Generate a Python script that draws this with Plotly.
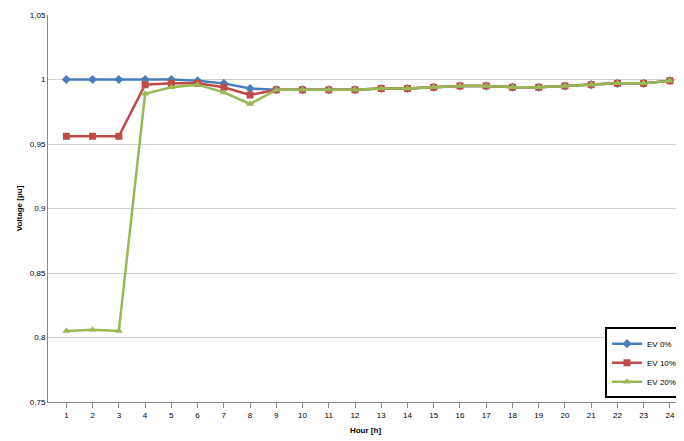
import plotly.graph_objects as go

hours = [str(h) for h in range(1, 25)]
tail = [0.992, 0.992, 0.992, 0.993, 0.993, 0.994, 0.995, 0.995, 0.994, 0.994, 0.995, 0.996, 0.997, 0.997, 0.999]
ev0 = [1.0, 1.0, 1.0, 1.0, 1.0, 0.999, 0.997, 0.993, 0.992] + tail
ev10 = [0.956, 0.956, 0.956, 0.996, 0.997, 0.997, 0.994, 0.988, 0.992] + tail
ev20 = [0.805, 0.806, 0.805, 0.989, 0.994, 0.996, 0.990, 0.981, 0.992] + tail
yticks = [0.75, 0.8, 0.85, 0.9, 0.95, 1.0, 1.05]
yticktext = ["0,75", "0,8", "0,85", "0,9", "0,95", "1", "1,05"]

fig = go.Figure()
for name, vals, col, sym in [("EV 0%", ev0, "#4a7ebb", "diamond"),
                             ("EV 10%", ev10, "#be4b48", "square"),
                             ("EV 20%", ev20, "#98b954", "triangle-up")]:
    fig.add_trace(go.Scatter(x=hours, y=vals, name=name, mode="lines+markers",
                             line={"color": col, "width": 2.5},
                             marker={"symbol": sym, "size": 7, "color": col}))

fig.update_layout(width=684, height=441, plot_bgcolor="#fff", paper_bgcolor="#fff",
                  font={"family": "Liberation Sans", "size": 8, "color": "#000"},
                  margin={"l": 40, "r": 9, "t": 7, "b": 47, "autoexpand": False},
                  legend={"x": 1.0, "y": 0.01, "xanchor": "right", "yanchor": "bottom",
                          "bordercolor": "#000", "borderwidth": 2, "font": {"size": 8},
                          "itemwidth": 30, "tracegroupgap": 0},
                  )
fig.update_xaxes(type="category", range=[-0.7, 23.5], showgrid=False, linecolor="#888",
                 ticks="outside", tickcolor="#888",
                 title={"text": "<b>Hour [h]</b>", "font": {"size": 8}, "standoff": 8})
fig.update_yaxes(range=[0.75, 1.05], tickvals=yticks, ticktext=yticktext, gridcolor="#d0d0d0",
                 linecolor="#888", showline=True, zeroline=False,
                 title={"text": "<b>Voltage [pu]</b>", "font": {"size": 8}, "standoff": 6})
fig.write_html("out.html")
